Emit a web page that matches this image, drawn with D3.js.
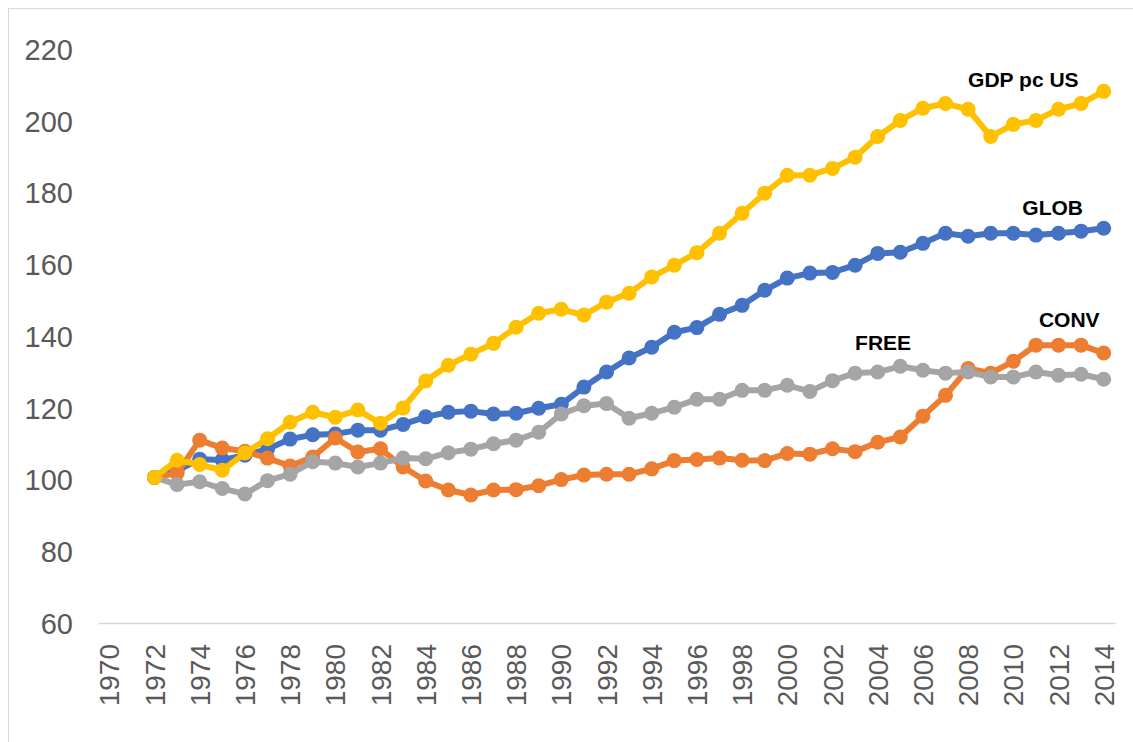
<!DOCTYPE html>
<html>
<head>
<meta charset="utf-8">
<script src="https://cdn.jsdelivr.net/npm/d3@7"></script>
<style>
  html, body { margin: 0; padding: 0; background: #fff; }
  svg { display: block; }
</style>
</head>
<body>
<svg id="chart" width="1133" height="742"></svg>
<script>
// ---- Data ----
const years = d3.range(1970, 2015).map(String);           // category axis 1970..2014
const dataYears = d3.range(1972, 2015).map(String);       // years with observations
const yTicks = [60, 80, 100, 120, 140, 160, 180, 200, 220];

const glob = [100.6, 102.5, 105.7, 105.5, 106.8, 108.5, 111.3, 112.5, 112.7, 113.8, 113.8,
  115.4, 117.5, 118.8, 119.1, 118.3, 118.5, 119.9, 121.0, 125.8, 130.0, 133.9, 136.9, 141.1,
  142.4, 146.1, 148.6, 152.8, 156.2, 157.6, 157.8, 159.8, 163.1, 163.4, 165.9, 168.7, 167.9,
  168.7, 168.7, 168.2, 168.7, 169.3, 170.1];
const conv = [100.6, 101.8, 111.0, 108.8, 107.9, 106.0, 103.8, 106.3, 111.6, 107.7, 108.6,
  103.5, 99.6, 97.1, 95.7, 97.1, 97.2, 98.3, 100.0, 101.3, 101.5, 101.5, 103.0, 105.3,
  105.6, 106.0, 105.4, 105.3, 107.3, 107.1, 108.6, 107.8, 110.4, 111.9, 117.7, 123.5, 131.0,
  129.7, 133.0, 137.5, 137.5, 137.5, 135.3];
const free = [100.6, 98.6, 99.4, 97.5, 96.0, 99.7, 101.5, 105.0, 104.6, 103.5, 104.6,
  106.0, 105.8, 107.5, 108.5, 110.0, 111.0, 113.2, 118.3, 120.6, 121.2, 117.1, 118.5, 120.2,
  122.4, 122.4, 124.9, 124.9, 126.3, 124.6, 127.6, 129.7, 130.0, 131.6, 130.5, 129.7, 130.0,
  128.6, 128.6, 130.0, 129.1, 129.4, 128.0];
const gdp = [100.6, 105.4, 104.2, 102.6, 107.4, 111.4, 116.0, 118.8, 117.4, 119.4, 115.7,
  120.0, 127.5, 131.9, 135.0, 138.0, 142.5, 146.4, 147.5, 145.9, 149.5, 152.0, 156.5, 159.8,
  163.3, 168.7, 174.3, 179.9, 184.9, 184.9, 186.8, 189.9, 195.7, 200.2, 203.6, 204.9, 203.3,
  195.7, 199.1, 200.2, 203.3, 204.9, 208.3];

const seriesNames = ["GLOB", "CONV", "FREE", "GDP pc US"];
const seriesValues = [glob, conv, free, gdp];
const seriesColors = ["#4472C4", "#ED7D31", "#A5A5A5", "#FFC000"];

// label anchors (year, value) for the in-chart series labels
const labelNames = ["GDP pc US", "GLOB", "CONV", "FREE"];
const labelYears = ["2008", "2010", "2011", "2003"];
const labelValues = [209.4, 173.7, 142.5, 136.1];

// ---- Layout ----
const svg = d3.select("#chart");
const W = 1133, H = 742;
const plot = { left: 98, right: 1115, top: 49.4, bottom: 623 };

// chart border
svg.append("rect")
  .attr("x", 8.5).attr("y", 8.5)
  .attr("width", W + 20).attr("height", H + 20)
  .attr("fill", "none").attr("stroke", "#D9D9D9").attr("stroke-width", 1);

const x = d3.scaleBand().domain(years).range([plot.left, plot.right]).paddingInner(0).paddingOuter(0);
const xc = d => x(d) + x.bandwidth() / 2;
const y = d3.scaleLinear().domain([60, 220]).range([plot.bottom, plot.top]);

// Y axis (labels only)
const yAxis = d3.axisLeft(y).tickValues(yTicks).tickSize(0).tickPadding(0);
const gy = svg.append("g").attr("transform", `translate(73,0)`).call(yAxis);
gy.select(".domain").remove();
gy.selectAll("text")
  .attr("font-family", "'Liberation Sans Narrow', 'Liberation Sans', Arial, sans-serif")
  .attr("font-size", 29)
  .attr("fill", "#595959")
  .attr("dy", "0.35em");

// X axis
const xAxis = d3.axisBottom(x).tickValues(years.filter(d => +d % 2 === 0)).tickSize(0).tickPadding(0);
const gx = svg.append("g").attr("transform", `translate(0,${plot.bottom})`).call(xAxis);
gx.select(".domain").attr("stroke", "#D9D9D9").attr("stroke-width", 1.5);
gx.selectAll("text")
  .attr("font-family", "'Liberation Sans', Arial, sans-serif")
  .attr("font-size", 28)
  .attr("fill", "#595959")
  .attr("text-anchor", "end")
  .attr("transform", "rotate(-90)")
  .attr("x", -21)
  .attr("y", 0)
  .attr("dy", "0.36em");

// Series
const line = d3.line().x((d, i) => xc(dataYears[i])).y(d => y(d));
seriesValues.forEach((vals, si) => {
  const g = svg.append("g").attr("class", "series");
  g.append("path")
    .attr("d", line(vals))
    .attr("fill", "none")
    .attr("stroke", seriesColors[si])
    .attr("stroke-width", 6)
    .attr("stroke-linejoin", "round")
    .attr("stroke-linecap", "round");
  g.selectAll("circle").data(vals).join("circle")
    .attr("cx", (d, i) => xc(dataYears[i]))
    .attr("cy", d => y(d))
    .attr("r", 7.5)
    .attr("fill", seriesColors[si]);
});

// Series labels
svg.append("g").selectAll("text").data(labelNames).join("text")
  .attr("x", (d, i) => xc(labelYears[i]) + (i === 1 ? 9 : i === 2 ? 3 : 0))
  .attr("y", (d, i) => y(labelValues[i]))
  .attr("font-family", "'Liberation Sans', Arial, sans-serif")
  .attr("font-weight", "bold")
  .attr("font-size", 21)
  .attr("fill", "#000")
  .text(d => d);
</script>
</body>
</html>
